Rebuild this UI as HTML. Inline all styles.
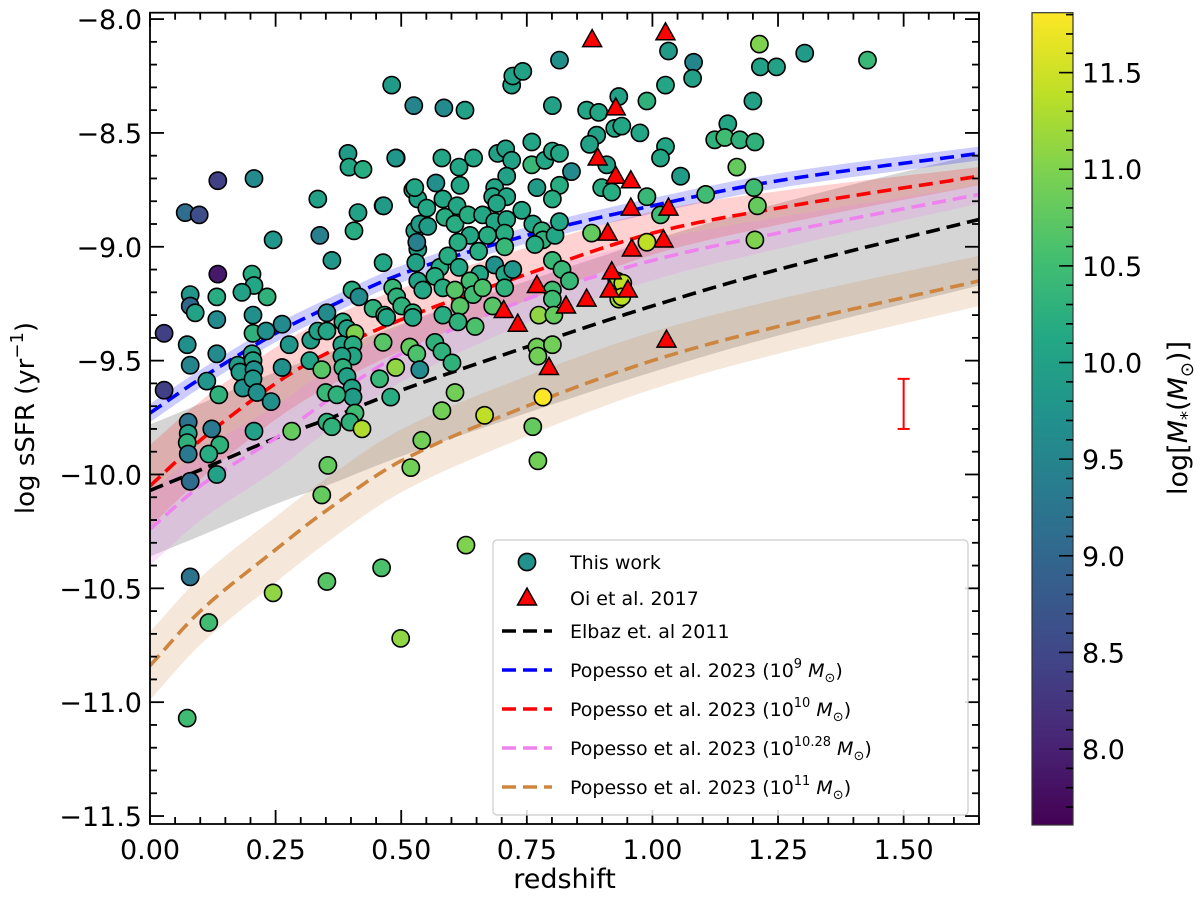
<!DOCTYPE html>
<html><head><meta charset="utf-8"><style>
html,body{margin:0;padding:0;background:#fff;}
svg{display:block;font-family:"DejaVu Sans","Liberation Sans",sans-serif;}
</style></head><body>
<svg id="chart" width="1200" height="900" viewBox="0 0 1200 900" xmlns="http://www.w3.org/2000/svg"></svg>
<script>
// ---------- data ----------
const zs=[0.135,0.207,0.070,0.098,0.394,0.396,0.424,0.490,0.334,0.414,0.464,0.245,0.338,0.406,0.362,0.464,0.135,0.203,0.207,0.183,0.233,0.080,0.080,0.090,0.133,0.133,0.205,0.205,0.231,0.263,0.277,0.028,0.074,0.080,0.133,0.113,0.137,0.028,0.175,0.179,0.185,0.203,0.205,0.207,0.205,0.213,0.241,0.263,0.320,0.318,0.334,0.352,0.352,0.384,0.392,0.408,0.382,0.404,0.404,0.382,0.384,0.342,0.392,0.402,0.404,0.350,0.372,0.408,0.398,0.422,0.352,0.362,0.282,0.207,0.076,0.076,0.074,0.076,0.080,0.123,0.139,0.117,0.133,0.354,0.342,0.402,0.416,0.444,0.467,0.483,0.491,0.501,0.523,0.464,0.489,0.457,0.479,0.517,0.531,0.541,0.519,0.523,0.533,0.527,0.533,0.529,0.533,0.080,0.074,0.117,0.245,0.352,0.461,0.499,0.629,0.772,
0.481,0.525,0.585,0.627,0.720,0.722,0.742,0.815,0.801,0.933,0.869,0.893,0.925,0.889,0.875,0.909,0.899,0.919,0.489,0.581,0.644,0.615,0.617,0.569,0.527,0.692,0.708,0.720,0.710,0.760,0.760,0.770,0.786,0.801,0.815,0.839,0.815,0.801,0.686,0.682,0.710,0.690,0.465,0.551,0.583,0.611,0.537,0.553,0.531,0.587,0.607,0.633,0.662,0.686,0.710,0.637,0.613,0.654,0.672,0.706,0.706,0.740,0.762,0.780,0.782,0.806,0.815,0.766,0.577,0.593,0.615,0.656,0.686,0.706,0.722,0.801,0.820,0.835,0.543,0.567,0.583,0.607,0.637,0.643,0.662,0.706,0.801,0.801,0.523,0.471,0.583,0.617,0.613,0.647,0.682,0.774,0.804,0.567,0.581,0.601,0.537,0.770,0.772,0.801,0.607,0.581,0.666,0.782,0.762,0.879,0.929,0.933,
1.032,1.082,1.080,1.213,1.215,1.247,1.303,1.428,1.026,0.989,1.200,0.939,0.975,1.150,1.124,1.144,1.174,1.204,1.026,1.016,1.168,1.056,0.989,1.106,1.202,1.209,1.016,1.204,0.989,0.941,0.939];
const ssfr=[-8.71,-8.70,-8.85,-8.86,-8.59,-8.65,-8.66,-8.61,-8.79,-8.85,-8.82,-8.97,-8.95,-8.93,-9.06,-9.07,-9.12,-9.12,-9.17,-9.20,-9.22,-9.21,-9.26,-9.29,-9.22,-9.32,-9.30,-9.38,-9.37,-9.34,-9.43,-9.38,-9.43,-9.52,-9.47,-9.59,-9.65,-9.63,-9.52,-9.55,-9.62,-9.47,-9.50,-9.54,-9.58,-9.64,-9.68,-9.53,-9.41,-9.50,-9.37,-9.37,-9.29,-9.33,-9.36,-9.38,-9.43,-9.43,-9.48,-9.48,-9.53,-9.54,-9.57,-9.62,-9.66,-9.64,-9.65,-9.73,-9.77,-9.80,-9.77,-9.79,-9.81,-9.81,-9.77,-9.82,-9.86,-9.91,-10.03,-9.80,-9.87,-9.91,-10.00,-9.96,-10.09,-9.19,-9.22,-9.27,-9.30,-9.18,-9.22,-9.26,-9.29,-9.42,-9.53,-9.58,-9.66,-9.44,-9.47,-9.85,-9.97,-8.75,-8.79,-8.93,-9.01,-9.07,-9.15,-10.45,-11.07,-10.65,-10.52,-10.47,-10.41,-10.72,-10.31,-9.94,
-8.29,-8.38,-8.39,-8.40,-8.29,-8.25,-8.23,-8.18,-8.38,-8.34,-8.40,-8.41,-8.48,-8.51,-8.55,-8.64,-8.74,-8.76,-8.61,-8.61,-8.61,-8.65,-8.73,-8.72,-8.74,-8.59,-8.57,-8.62,-8.69,-8.54,-8.64,-8.74,-8.62,-8.58,-8.59,-8.67,-8.73,-8.79,-8.74,-8.78,-8.78,-8.81,-8.82,-8.83,-8.79,-8.82,-8.90,-8.91,-8.98,-8.87,-8.90,-8.86,-8.86,-8.89,-8.88,-8.95,-8.98,-9.02,-8.95,-8.94,-9.00,-8.84,-8.90,-8.93,-8.97,-8.95,-8.89,-8.99,-9.09,-9.04,-9.09,-9.12,-9.08,-9.12,-9.10,-9.06,-9.10,-9.15,-9.19,-9.13,-9.18,-9.19,-9.15,-9.21,-9.18,-9.18,-9.19,-9.23,-9.31,-9.31,-9.30,-9.26,-9.33,-9.35,-9.26,-9.30,-9.30,-9.42,-9.46,-9.51,-9.54,-9.44,-9.48,-9.43,-9.64,-9.72,-9.74,-9.66,-9.79,-8.94,-9.15,-9.23,
-8.14,-8.19,-8.26,-8.11,-8.21,-8.21,-8.15,-8.18,-8.29,-8.36,-8.36,-8.47,-8.50,-8.46,-8.53,-8.52,-8.53,-8.54,-8.56,-8.61,-8.65,-8.69,-8.78,-8.77,-8.74,-8.82,-8.86,-8.97,-8.98,-9.16,-9.22];
const mass=[8.4,9.6,9.1,8.6,9.9,10.1,10.2,9.8,10.0,10.0,10.1,9.8,9.4,10.2,9.8,10.1,7.9,10.2,10.1,10.0,10.3,9.8,9.0,10.0,10.2,9.6,9.7,10.3,9.7,9.6,9.8,8.4,9.7,9.5,9.6,9.8,10.3,8.4,9.9,9.9,9.7,10.0,10.0,9.7,9.8,9.7,9.7,9.7,9.9,10.0,10.0,10.1,9.6,10.2,10.0,11.0,10.0,10.2,10.1,10.0,10.3,10.7,10.0,10.0,9.9,10.4,10.3,10.5,10.3,11.3,10.3,10.3,10.8,10.0,9.2,10.0,10.3,9.3,9.1,9.3,10.3,10.2,10.0,10.8,10.8,10.2,9.6,10.3,10.3,10.4,10.3,10.3,10.3,10.7,11.1,10.4,10.2,10.8,10.6,10.9,10.9,10.0,10.0,10.0,10.0,10.0,10.0,9.2,10.5,10.5,11.1,10.7,10.6,11.1,11.0,10.9,
9.9,9.5,9.6,10.0,10.0,10.0,10.0,9.7,10.0,10.0,10.1,10.1,10.1,10.0,10.0,10.0,10.2,10.2,9.8,10.1,10.1,10.1,10.1,9.7,10.1,10.0,10.0,10.0,10.0,10.1,10.4,9.9,10.1,10.1,10.1,9.6,10.2,10.2,10.1,10.1,10.1,10.1,9.9,10.1,10.1,10.1,9.9,9.9,9.4,10.2,10.2,10.2,10.1,10.1,10.1,10.1,10.2,10.2,10.2,10.2,10.4,10.1,10.1,10.3,10.3,10.1,10.1,10.2,10.2,10.2,10.1,10.1,9.7,10.1,9.8,10.4,10.4,10.4,10.1,10.2,10.2,10.7,10.5,10.5,10.6,10.3,10.5,10.5,10.1,10.1,10.2,10.7,10.3,10.6,10.7,11.1,10.8,10.3,10.3,10.3,9.6,10.9,10.9,10.9,10.9,10.9,11.4,11.8,10.8,10.8,11.2,11.2,
9.9,9.5,10.0,11.0,10.0,10.0,9.9,10.4,10.1,10.3,10.0,10.1,10.1,10.1,10.3,10.5,10.3,10.3,10.1,10.1,10.8,9.9,10.4,10.5,10.5,10.8,10.5,11.0,11.4,11.4,11.4];
const oiZ=[0.927,0.891,0.927,0.957,0.957,0.911,0.959,0.770,0.919,0.951,0.915,0.869,0.828,0.704,0.732,0.794,1.026,0.880,1.032,1.022,1.028];
const oiSSFR=[-8.39,-8.61,-8.69,-8.71,-8.83,-8.94,-9.01,-9.17,-9.11,-9.19,-9.19,-9.23,-9.26,-9.28,-9.34,-9.53,-8.06,-8.09,-8.83,-8.97,-9.41];
const curveZ=[0,0.1,0.25,0.35,0.5,0.75,1.0,1.25,1.65];
const elbaz=[-10.07,-9.98,-9.84,-9.76,-9.63,-9.44,-9.26,-9.10,-8.88];
const pop9=[-9.73,-9.58,-9.38,-9.27,-9.12,-8.95,-8.82,-8.71,-8.59];
const pop10=[-10.05,-9.85,-9.60,-9.47,-9.32,-9.12,-8.94,-8.83,-8.69];
const pop1028=[-10.24,-10.05,-9.84,-9.68,-9.47,-9.23,-9.06,-8.94,-8.77];
const pop11=[-10.84,-10.60,-10.33,-10.16,-9.94,-9.70,-9.50,-9.35,-9.15];
const errZ=[1.5], errCenter=[-9.69], errHalf=[0.11];
const xTicks=[0,0.25,0.5,0.75,1.0,1.25,1.5];
const xTickLabels=["0.00","0.25","0.50","0.75","1.00","1.25","1.50"];
const yTicks=[-8.0,-8.5,-9.0,-9.5,-10.0,-10.5,-11.0,-11.5];
const yTickLabels=["−8.0","−8.5","−9.0","−9.5","−10.0","−10.5","−11.0","−11.5"];
const cbTicks=[8.0,8.5,9.0,9.5,10.0,10.5,11.0,11.5];
const cbTickLabels=["8.0","8.5","9.0","9.5","10.0","10.5","11.0","11.5"];

// ---------- layout ----------
const L=150,R=979,T=12.7,B=824;
const X0=0,X1=1.65,Y0=-7.972,Y1=-11.535;
const CB={x:1032,w:41,top:12.7,bot:825,min:7.607,max:11.81};
const sx=z=>L+(z-X0)/(X1-X0)*(R-L);
const sy=v=>T+(v-Y0)/(Y1-Y0)*(B-T);
const sc=m=>CB.bot-(m-CB.min)/(CB.max-CB.min)*(CB.bot-CB.top);
const NS="http://www.w3.org/2000/svg";
const svg=document.getElementById('chart');
function mk(tag,attrs,parent){const e=document.createElementNS(NS,tag);for(const k in attrs)e.setAttribute(k,attrs[k]);(parent||svg).appendChild(e);return e;}
const vir=[[0,68,1,84],[0.1,72,36,117],[0.2,65,68,135],[0.3,53,95,141],[0.4,42,120,142],[0.5,33,145,140],[0.6,34,168,132],[0.7,68,191,112],[0.8,122,209,81],[0.9,189,223,38],[1,253,231,37]];
function viridis(t){t=Math.max(0,Math.min(1,t));for(let i=1;i<vir.length;i++){if(t<=vir[i][0]){const a=vir[i-1],b=vir[i],f=(t-a[0])/(b[0]-a[0]);return `rgb(${Math.round(a[1]+f*(b[1]-a[1]))},${Math.round(a[2]+f*(b[2]-a[2]))},${Math.round(a[3]+f*(b[3]-a[3]))})`;}}return 'rgb(253,231,37)';}
function interp(arr,z){for(let i=1;i<curveZ.length;i++){if(z<=curveZ[i]){const t=(z-curveZ[i-1])/(curveZ[i]-curveZ[i-1]);
 const p0=arr[Math.max(0,i-2)],p1=arr[i-1],p2=arr[i],p3=arr[Math.min(arr.length-1,i+1)];
 const z0=curveZ[Math.max(0,i-2)],z1=curveZ[i-1],z2=curveZ[i],z3=curveZ[Math.min(arr.length-1,i+1)];
 const m1=(p2-p0)/((z2-z0)||1)*(z2-z1),m2=(p3-p1)/((z3-z1)||1)*(z2-z1);
 const t2=t*t,t3=t2*t;return (2*t3-3*t2+1)*p1+(t3-2*t2+t)*m1+(-2*t3+3*t2)*p2+(t3-t2)*m2;}}return arr[arr.length-1];}
const samples=[];for(let i=0;i<=80;i++)samples.push(X0+(X1-X0)*i/80);
function hw(w0,w1,z){return w0+(w1-w0)*(z-X0)/(X1-X0);}
function linePath(arr){return samples.map((z,i)=>(i?'L':'M')+sx(z).toFixed(1)+','+sy(interp(arr,z)).toFixed(1)).join('');}
function bandPath(arr,w0,w1){let d=samples.map((z,i)=>(i?'L':'M')+sx(z).toFixed(1)+','+sy(interp(arr,z)+hw(w0,w1,z)).toFixed(1)).join('');const rev=samples.slice().reverse();d+=rev.map(z=>'L'+sx(z).toFixed(1)+','+sy(interp(arr,z)-hw(w0,w1,z)).toFixed(1)).join('');return d+'Z';}

mk('defs',{}).innerHTML='<clipPath id="pc"><rect x="'+L+'" y="'+T+'" width="'+(R-L)+'" height="'+(B-T)+'"/></clipPath><linearGradient id="vg" x1="0" y1="1" x2="0" y2="0">'+vir.map(s=>`<stop offset="${s[0]}" stop-color="rgb(${s[1]},${s[2]},${s[3]})"/>`).join('')+'</linearGradient>';

const plot=mk('g',{'clip-path':'url(#pc)'});



const bands=[[elbaz,0.29,0.29,'rgba(128,128,128,0.33)','elbaz-band'],[pop9,0.04,0.03,'rgba(0,0,255,0.2)','popesso-1e9-band'],[pop10,0.18,0.04,'rgba(255,0,0,0.18)','popesso-1e10-band'],[pop1028,0.16,0.04,'rgba(238,130,238,0.22)','popesso-1e10-28-band'],[pop11,0.15,0.11,'rgba(205,133,63,0.2)','popesso-1e11-band']];
bands.forEach(b=>{const p=mk('path',{d:bandPath(b[0],b[1],b[2]),fill:b[3],stroke:'none'},plot);

});
const lines=[[elbaz,'#000','elbaz-line'],[pop9,'#0000ff','popesso-1e9-line'],[pop10,'#ff0000','popesso-1e10-line'],[pop1028,'#ee82ee','popesso-1e10-28-line'],[pop11,'#cd853f','popesso-1e11-line']];
lines.forEach(l=>{const p=mk('path',{d:linePath(l[0]),fill:'none',stroke:l[1],'stroke-width':3.6,'stroke-dasharray':'14 7'},plot);

});

for(let i=0;i<zs.length;i++){const c=mk('circle',{cx:sx(zs[i]).toFixed(1),cy:sy(ssfr[i]).toFixed(1),r:8.6,fill:viridis((mass[i]-CB.min)/(CB.max-CB.min)),stroke:'#000','stroke-width':1.6},plot);

}
for(let i=0;i<oiZ.length;i++){const x=sx(oiZ[i]),y=sy(oiSSFR[i]);const t=mk('polygon',{points:`${x},${y-10} ${x-9.5},${y+7} ${x+9.5},${y+7}`,fill:'#ff0000',stroke:'#000','stroke-width':1.5},plot);

}
for(let i=0;i<errZ.length;i++){const x=sx(errZ[i]),y1=sy(errCenter[i]+errHalf[i]),y2=sy(errCenter[i]-errHalf[i]);
const g=mk('g',{stroke:'#ff0000','stroke-width':2});


mk('line',{x1:x,x2:x,y1:y1,y2:y2},g);mk('line',{x1:x-6,x2:x+6,y1:y1,y2:y1},g);mk('line',{x1:x-6,x2:x+6,y1:y2,y2:y2},g);}

// axes frame & ticks
const ax=mk('g',{stroke:'#000','stroke-width':1.8});


mk('rect',{x:L,y:T,width:R-L,height:B-T,fill:'none'},ax);
for(let k=0;k<=33;k++){const z=k*0.05;const x=sx(z);const major=k%5===0;const len=major?14:7;
 mk('line',{x1:x,x2:x,y1:B,y2:B-len},ax);mk('line',{x1:x,x2:x,y1:T,y2:T+len},ax);}
for(let k=0;k<=35;k++){const v=-8-k*0.1;const y=sy(v);const major=k%5===0;const len=major?14:7;
 mk('line',{x1:L,x2:L+len,y1:y,y2:y},ax);mk('line',{x1:R,x2:R-len,y1:y,y2:y},ax);}
xTicks.forEach((z,i)=>{const t=mk('text',{x:sx(z),y:B+35,'font-size':27,'text-anchor':'middle'});t.textContent=xTickLabels[i];

});
yTicks.forEach((v,i)=>{const t=mk('text',{x:L-8,y:sy(v)+10,'font-size':27,'text-anchor':'end'});t.textContent=yTickLabels[i];

});
const xl=mk('text',{x:(L+R)/2,y:888,'font-size':27,'text-anchor':'middle'});xl.textContent='redshift';


const yl=mk('text',{x:0,y:0,'font-size':26,'text-anchor':'middle',transform:'translate(34,418) rotate(-90)'});
yl.innerHTML='log sSFR (yr<tspan font-size="18" dy="-11">−1</tspan><tspan dy="11">)</tspan>';



// legend
const lg=mk('g',{});


mk('rect',{x:493,y:540,width:475,height:275,rx:4,fill:'rgba(255,255,255,0.85)',stroke:'#ccc','stroke-width':1.2},lg);
const legY=[562,598,631,670,709,748,787];
mk('circle',{cx:527,cy:legY[0],r:8.6,fill:'#21918c',stroke:'#000','stroke-width':1.6},lg);
mk('polygon',{points:`527,${legY[1]-10} 517.5,${legY[1]+7} 536.5,${legY[1]+7}`,fill:'#ff0000',stroke:'#000','stroke-width':1.5},lg);
const legCols=['#000','#0000ff','#ff0000','#ee82ee','#cd853f'];
legCols.forEach((c,i)=>mk('line',{x1:502,x2:552,y1:legY[i+2],y2:legY[i+2],stroke:c,'stroke-width':3.6,'stroke-dasharray':'14 7'},lg));
const sup=(e)=>`10<tspan font-size="13" dy="-9">${e}</tspan><tspan dy="9"> <tspan font-style="italic">M</tspan><tspan font-size="13" dy="5">⊙</tspan><tspan dy="-5">)</tspan></tspan>`;
const legTxt=['This work','Oi et al. 2017','Elbaz et. al 2011','Popesso et al. 2023 ('+sup('9'),'Popesso et al. 2023 ('+sup('10'),'Popesso et al. 2023 ('+sup('10.28'),'Popesso et al. 2023 ('+sup('11')];
const legNames=['legend-this-work','legend-oi-2017','legend-elbaz-2011','legend-popesso-1e9','legend-popesso-1e10','legend-popesso-1e10-28','legend-popesso-1e11'];
legTxt.forEach((s,i)=>{const t=mk('text',{x:570,y:legY[i]+7,'font-size':19},lg);t.innerHTML=s;

});

// colorbar
const cb=mk('g',{});


mk('rect',{x:CB.x,y:CB.top,width:CB.w,height:CB.bot-CB.top,fill:'url(#vg)',stroke:'#333','stroke-width':1.2},cb);
for(let k=0;k<=42;k++){const m=7.7+k*0.1;if(m>CB.max)break;const y=sc(m);const major=Math.abs((m*2)-Math.round(m*2))<1e-6;
 mk('line',{x1:CB.x+CB.w,x2:CB.x+CB.w-(major?14:7),y1:y,y2:y,stroke:'#000','stroke-width':1.6},cb);}
cbTicks.forEach((m,i)=>{const t=mk('text',{x:CB.x+CB.w+9,y:sc(m)+10,'font-size':27},cb);t.textContent=cbTickLabels[i];

});
const cl=mk('text',{x:0,y:0,'font-size':27,'text-anchor':'middle',transform:'translate(1187,418) rotate(-90)'},cb);
cl.innerHTML='log[<tspan font-style="italic">M</tspan><tspan font-size="18" dy="6">*</tspan><tspan dy="-6">(</tspan><tspan font-style="italic">M</tspan><tspan font-size="18" dy="6">⊙</tspan><tspan dy="-6">)]</tspan>';


</script>
</body></html>
